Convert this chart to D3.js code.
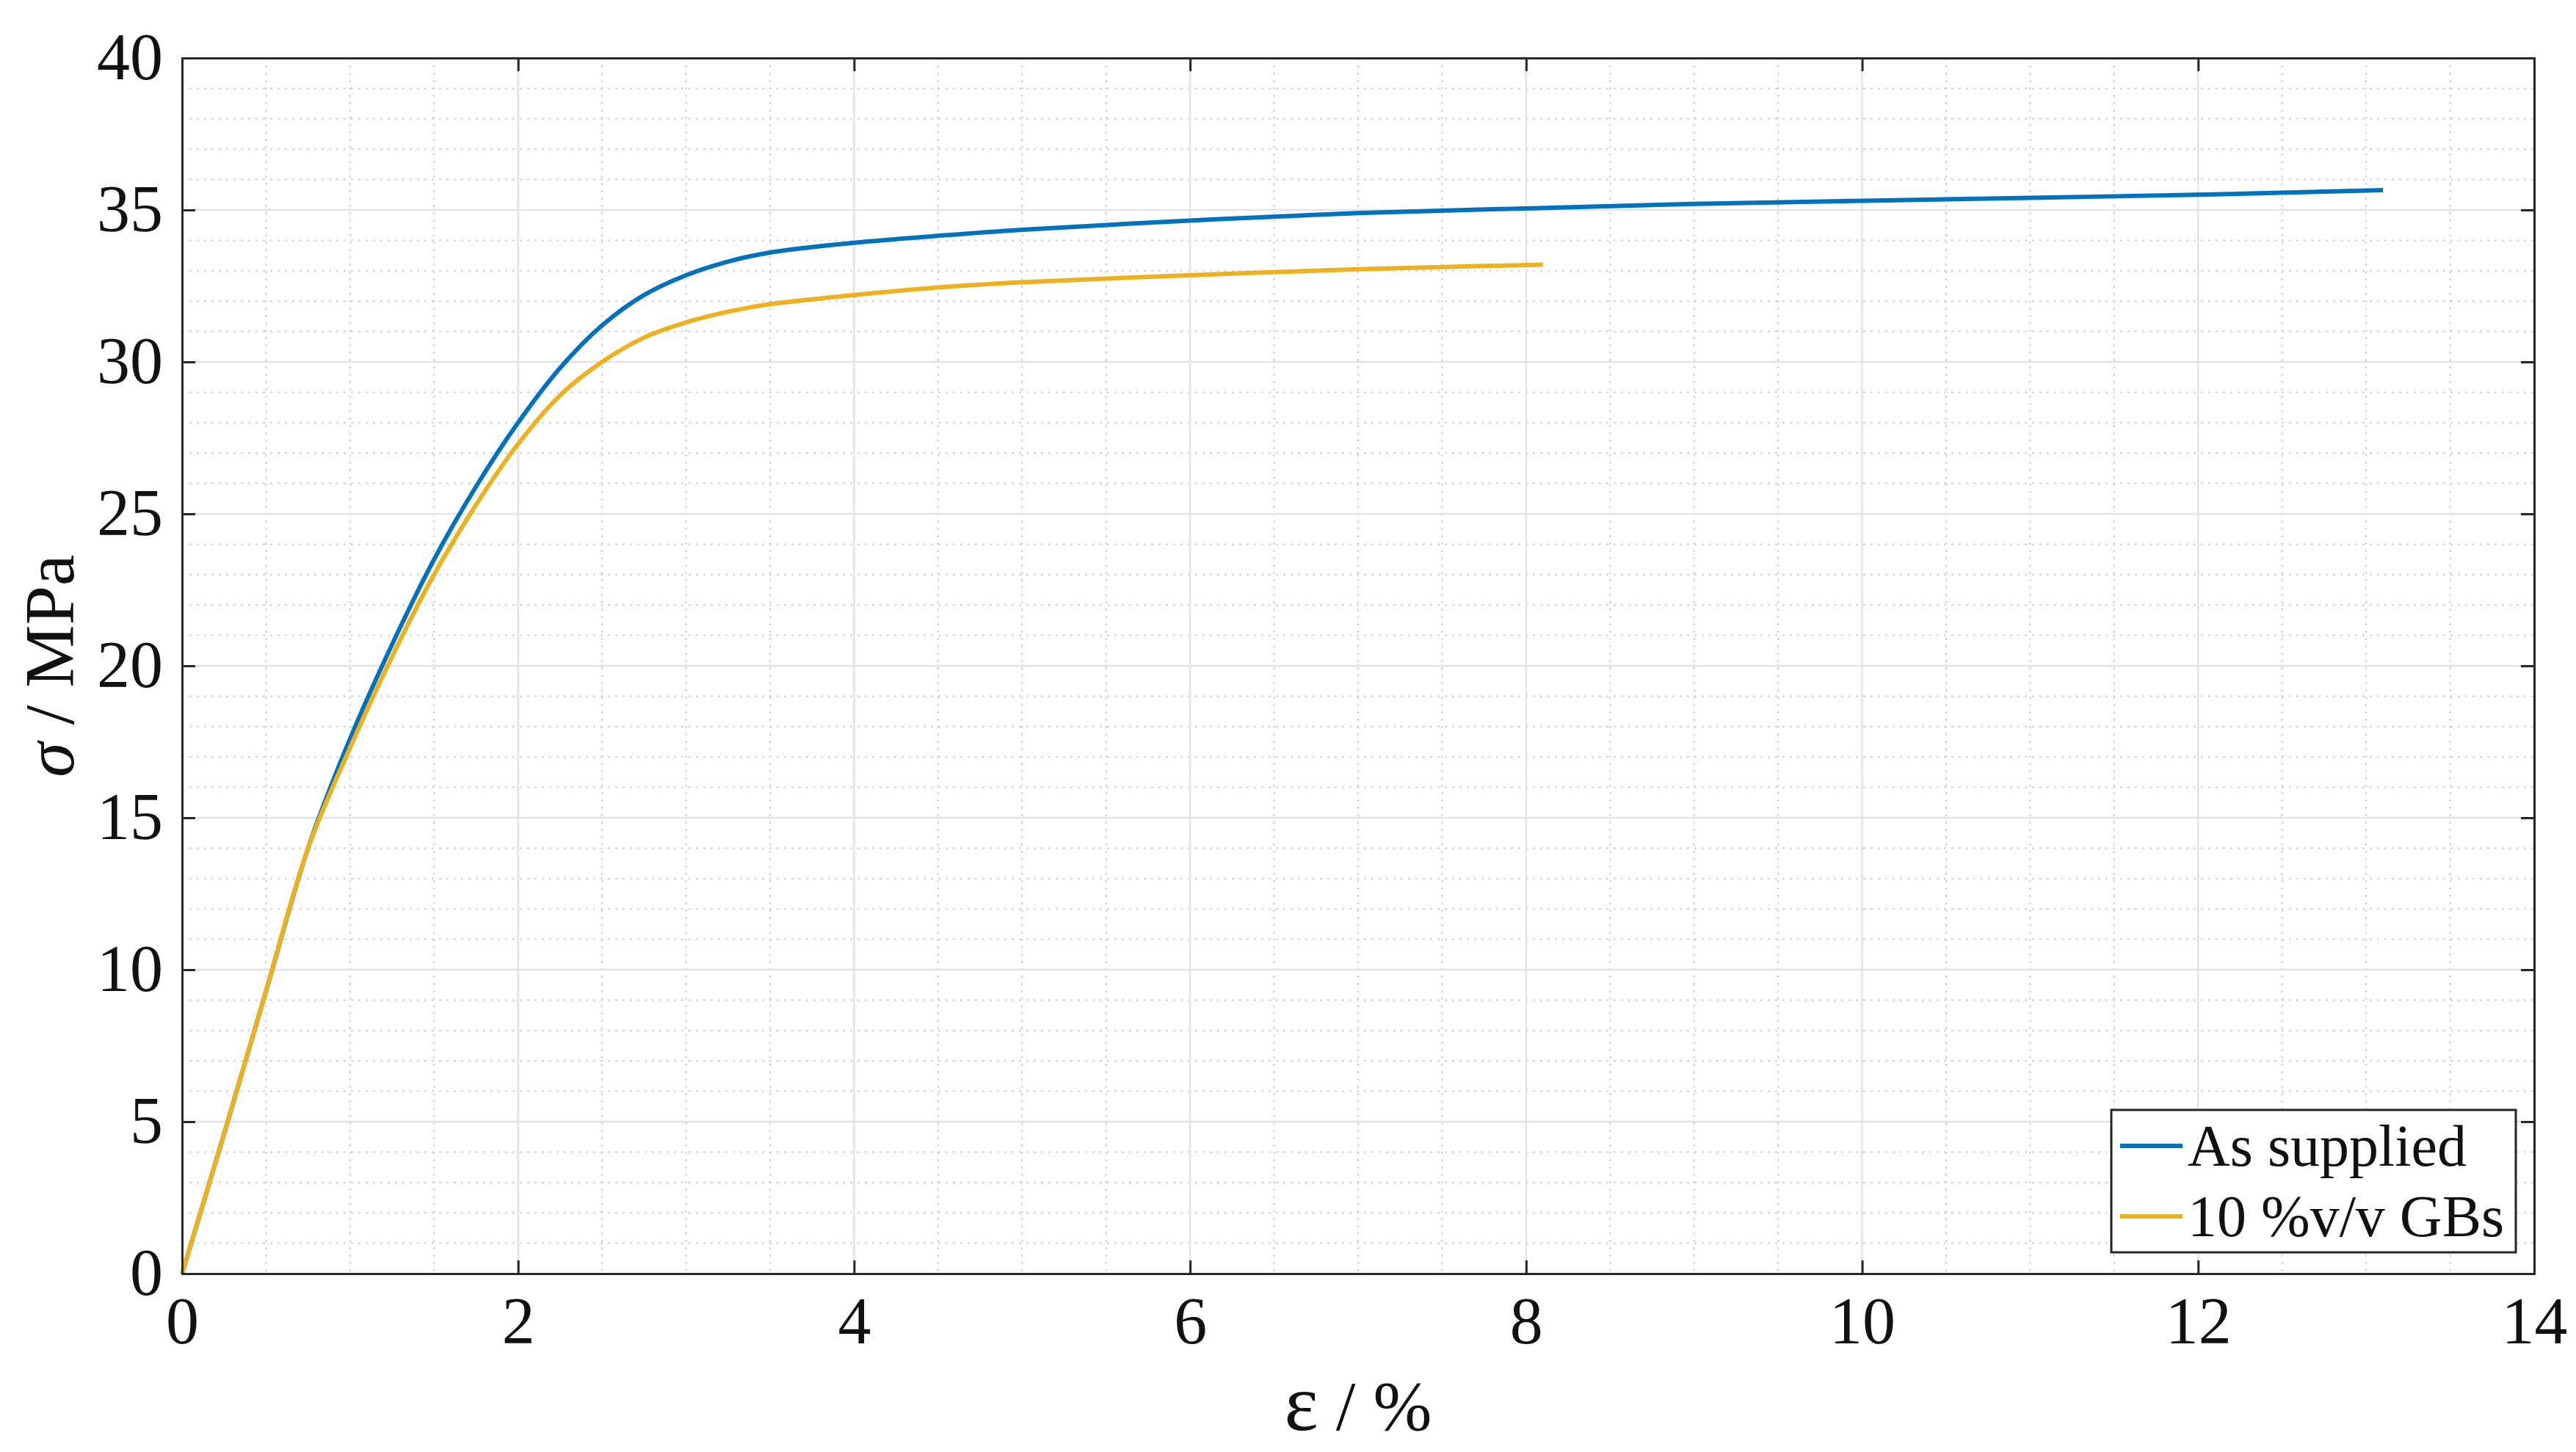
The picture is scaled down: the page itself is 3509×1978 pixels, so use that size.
<!DOCTYPE html>
<html><head><meta charset="utf-8">
<script src="https://cdn.jsdelivr.net/npm/d3@7"></script>
<style>body{margin:0;background:#fff}</style></head>
<body><svg id="c" width="3509" height="1978"></svg>
<script>
const xTicks=[0,2,4,6,8,10,12,14];
const yTicks=[0,5,10,15,20,25,30,35,40];
const seriesNames=["As supplied","10 %v/v GBs"];
const seriesColors=["#0072BD","#EDB120"];
const asSupplied=[[0,0],[0.25,4.6],[0.5,9.3],[0.75,14],[1,17.6],[1.25,20.7],[1.5,23.5],[1.75,25.9],[2,28],[2.25,29.8],[2.5,31.2],[2.75,32.2],[3,32.85],[3.25,33.3],[3.5,33.6],[4,33.92],[4.5,34.15],[5,34.35],[6,34.65],[7,34.9],[8,35.05],[9,35.2],[10,35.3],[11,35.4],[12,35.5],[13.1,35.65]];
const gbs=[[0,0],[0.25,4.6],[0.5,9.3],[0.75,14],[1,17.3],[1.25,20.3],[1.5,23],[1.75,25.3],[2,27.3],[2.25,28.9],[2.5,30],[2.75,30.8],[3,31.3],[3.25,31.65],[3.5,31.9],[4,32.2],[4.5,32.45],[5,32.62],[6,32.85],[7,33.05],[8.1,33.2]];
const L=248,R=3452,T=79,B=1735;
const svg=d3.select("#c");
const x=d3.scaleLinear().domain([0,14]).range([L,R]);
const y=d3.scaleLinear().domain([0,40]).range([B,T]);
const g=svg.append("g");
g.selectAll(".mx").data(d3.range(0.5,14,0.5).filter(v=>v%2!==0)).join("line")
 .attr("x1",d=>x(d)).attr("x2",d=>x(d)).attr("y1",T).attr("y2",B)
 .attr("stroke","#d0d0d0").attr("stroke-width",2).attr("stroke-dasharray","3,7");
g.selectAll(".my").data(d3.range(1,40,1).filter(v=>v%5!==0)).join("line")
 .attr("y1",d=>y(d)).attr("y2",d=>y(d)).attr("x1",L).attr("x2",R)
 .attr("stroke","#d0d0d0").attr("stroke-width",2).attr("stroke-dasharray","3,7");
g.selectAll(".gx").data(xTicks.slice(1,-1)).join("line")
 .attr("x1",d=>x(d)).attr("x2",d=>x(d)).attr("y1",T).attr("y2",B).attr("stroke","#e3e3e3").attr("stroke-width",2.5);
g.selectAll(".gy").data(yTicks.slice(1,-1)).join("line")
 .attr("y1",d=>y(d)).attr("y2",d=>y(d)).attr("x1",L).attr("x2",R).attr("stroke","#e3e3e3").attr("stroke-width",2.5);
const line=d3.line().x(d=>x(d[0])).y(d=>y(d[1])).curve(d3.curveCatmullRom.alpha(0.5));
[asSupplied,gbs].forEach((s,i)=>{
 svg.append("path").attr("d",line(s)).attr("fill","none").attr("stroke",seriesColors[i]).attr("stroke-width",6);
});
const font="'Liberation Serif', 'Times New Roman', Times, serif";
const ax=svg.append("g").attr("transform",`translate(0,${B})`).call(d3.axisBottom(x).tickValues(xTicks).tickSize(-18).tickPadding(30).tickFormat(d3.format("d")));
const ay=svg.append("g").attr("transform",`translate(${L},0)`).call(d3.axisLeft(y).tickValues(yTicks).tickSize(-18).tickPadding(26).tickFormat(d3.format("d")));
svg.append("g").attr("transform",`translate(0,${T})`).call(d3.axisTop(x).tickValues(xTicks).tickSize(-18).tickFormat(""));
svg.append("g").attr("transform",`translate(${R},0)`).call(d3.axisRight(y).tickValues(yTicks).tickSize(-18).tickFormat(""));
svg.selectAll(".domain").attr("stroke","#262626").attr("stroke-width",3);
svg.selectAll(".tick line").attr("stroke","#262626").attr("stroke-width",3);
svg.selectAll(".tick text").attr("font-family",font).attr("font-size",90).attr("fill","#111");
ax.selectAll(".tick text").attr("dy","0.72em");
svg.append("text").attr("x",(L+R)/2).attr("y",1948).attr("text-anchor","middle").attr("font-family",font).attr("font-size",96).attr("fill","#111")
 .html('<tspan font-size="110">ε</tspan> / %');
svg.append("text").attr("transform",`translate(100,${(T+B)/2}) rotate(-90)`).attr("text-anchor","middle").attr("font-family",font).attr("font-size",96).attr("fill","#111")
 .html('<tspan font-style="italic">σ</tspan> / MPa');
const lg=svg.append("g");
lg.append("rect").attr("x",2876).attr("y",1512).attr("width",551).attr("height",194).attr("fill","#fff").attr("stroke","#262626").attr("stroke-width",3);
seriesNames.forEach((n,i)=>{
 const yy=1561+i*96;
 lg.append("line").attr("x1",2888).attr("x2",2973).attr("y1",yy).attr("y2",yy).attr("stroke",seriesColors[i]).attr("stroke-width",6);
 lg.append("text").attr("x",2980).attr("y",yy+27).attr("font-family",font).attr("font-size",80).attr("fill","#111").text(n);
});
</script></body></html>
